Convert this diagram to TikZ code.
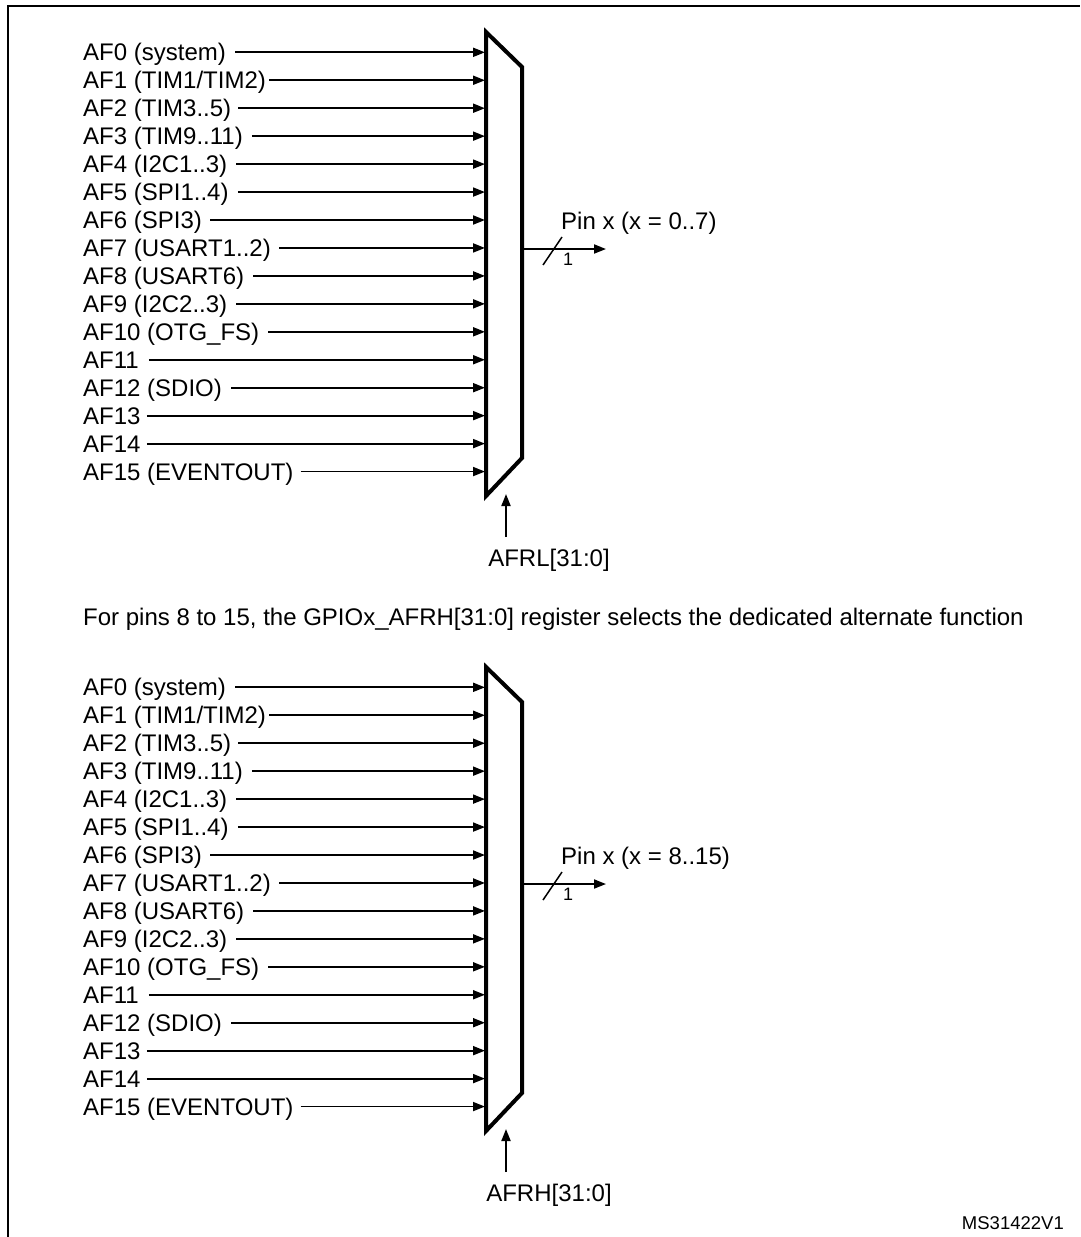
\documentclass[tikz,border=0pt]{standalone}
\usepackage{fontspec}
\setmainfont{Liberation Sans}
\usetikzlibrary{arrows.meta,calc}
\tikzset{
  lbl/.style={inner sep=0pt, anchor=base west, font=\fontsize{24}{28}\selectfont},
  reglbl/.style={inner sep=0pt, anchor=base, font=\fontsize{24}{28}\selectfont},
  smalllbl/.style={inner sep=0pt, anchor=base west, font=\fontsize{18}{22}\selectfont},
  idlbl/.style={inner sep=0pt, anchor=base east, font=\fontsize{18.5}{22}\selectfont},
  inarrow/.style={line width=1.8pt, -{Triangle[length=12pt,width=9pt]}},
  busslash/.style={line width=1.5pt},
  muxline/.style={line width=4pt, line join=miter},
  frameline/.style={line width=2.5pt},
}
\newcommand\drawmux[4]{%
  \begin{scope}[shift={(0,#2)}]
    \draw[muxline] (486,32) -- (522,67) -- (522,458) -- (486,496) -- cycle;
    \foreach \i/\t/\g in {0/{AF0 (system)}/9, 1/{AF1 (TIM1/TIM2)}/3,
        2/{AF2 (TIM3..5)}/7, 3/{AF3 (TIM9..11)}/9, 4/{AF4 (I2C1..3)}/9,
        5/{AF5 (SPI1..4)}/9, 6/{AF6 (SPI3)}/8, 7/{AF7 (USART1..2)}/8,
        8/{AF8 (USART6)}/9, 9/{AF9 (I2C2..3)}/9, 10/{AF10 (OTG\_FS)}/9,
        11/{AF11}/10, 12/{AF12 (SDIO)}/9, 13/{AF13}/6, 14/{AF14}/6,
        15/{AF15 (EVENTOUT)}/7} {
      \coordinate (#1in\i) at (485,{52.3+27.95*\i});
      \node[lbl] (#1l\i) at (83,{52.3+27.95*\i+8.5}) {\t};
      \draw[inarrow] ($(#1l\i.east |- #1in\i)+(\g,0)$) -- (#1in\i);
    }
    \coordinate (#1out) at (524,249);
    \coordinate (#1pin) at (606,249);
    \draw[inarrow] (#1out) -- (#1pin);
    \coordinate (#1sa) at (543,265);
    \coordinate (#1sb) at (562,237);
    \draw[busslash] (#1sa) -- (#1sb);
    \node[lbl] (#1pintext) at (561,229) {#3};
    \node[smalllbl] (#1width) at (563,265) {1};
    \node[reglbl] (#1reg) at (549,566.5) {#4};
    \coordinate (#1selb) at (506,537);
    \coordinate (#1sel) at (506,494);
    \draw[inarrow] (#1selb) -- (#1sel);
  \end{scope}%
}
\begin{document}
\begin{tikzpicture}[x=1pt,y=-1pt]
  \useasboundingbox (0,0) rectangle (1080,1237);
  \fill[white] (0,0) rectangle (1080,1237);
  \coordinate (fbl) at (8,1237);
  \coordinate (ftl) at (8,6);
  \coordinate (ftr) at (1080,6);
  \draw[frameline] (fbl) -- (ftl) -- (ftr);
  \drawmux{a}{0}{Pin x (x = 0..7)}{AFRL[31:0]}
  \node[lbl] (note) at (83,625) {For pins 8 to 15, the GPIOx\_AFRH[31:0] register selects the dedicated alternate function};
  \drawmux{b}{635}{Pin x (x = 8..15)}{AFRH[31:0]}
  \node[idlbl] (msid) at (1064,1229.3) {MS31422V1};
\end{tikzpicture}
\end{document}
